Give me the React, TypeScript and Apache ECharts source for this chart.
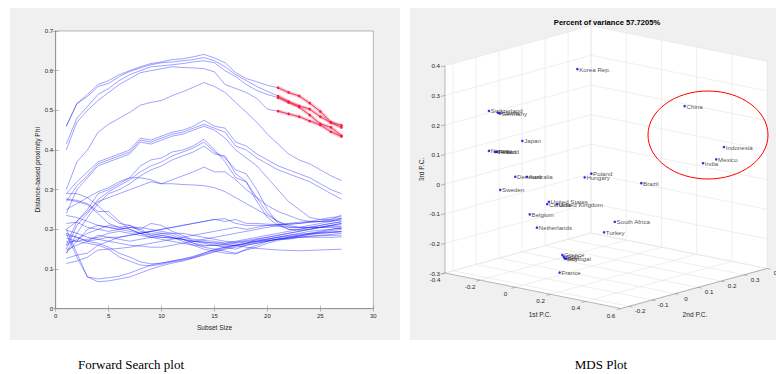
import React, { useEffect, useRef } from 'react';
import * as echarts from 'echarts';

// ---------------- Left panel data: forward search trajectories ----------------
const SUBSET = [1,2,3,4,5,6,7,8,9,10,11,12,13,14,15,16,17,18,19,20,21,22,23,24,25,26,27];

const T1 = [0.46,0.517,0.54,0.565,0.575,0.59,0.60,0.61,0.618,0.622,0.628,0.63,0.635,0.641,0.632,0.62,0.595,0.58,0.572,0.563,0.557,0.545,0.536,0.518,0.497,0.47,0.462];
const T2 = [0.46,0.517,0.535,0.56,0.568,0.585,0.598,0.607,0.615,0.62,0.622,0.625,0.628,0.633,0.625,0.61,0.59,0.575,0.56,0.548,0.536,0.522,0.511,0.503,0.484,0.469,0.457];
const T3 = [0.415,0.48,0.51,0.54,0.555,0.575,0.59,0.60,0.61,0.612,0.615,0.618,0.622,0.625,0.62,0.60,0.585,0.565,0.55,0.54,0.532,0.52,0.508,0.488,0.466,0.457,0.436];
const T4 = [0.40,0.47,0.50,0.525,0.545,0.565,0.58,0.595,0.60,0.605,0.61,0.608,0.607,0.605,0.597,0.565,0.555,0.545,0.53,0.503,0.498,0.491,0.484,0.473,0.463,0.446,0.434];
const B1 = [0.30,0.37,0.40,0.445,0.465,0.48,0.495,0.513,0.52,0.525,0.537,0.547,0.558,0.57,0.56,0.545,0.52,0.495,0.47,0.44,0.415,0.39,0.375,0.365,0.35,0.335,0.323];
const C1 = [0.29,0.32,0.345,0.37,0.38,0.39,0.40,0.43,0.425,0.435,0.445,0.45,0.46,0.475,0.46,0.455,0.42,0.41,0.39,0.375,0.36,0.35,0.34,0.33,0.315,0.30,0.29];
const C2 = [0.27,0.31,0.335,0.365,0.375,0.385,0.395,0.425,0.42,0.43,0.44,0.445,0.455,0.465,0.455,0.445,0.41,0.40,0.38,0.365,0.35,0.34,0.33,0.32,0.305,0.29,0.276];
const C3 = [0.24,0.30,0.33,0.36,0.37,0.38,0.39,0.42,0.415,0.425,0.435,0.44,0.45,0.46,0.45,0.43,0.40,0.38,0.36,0.33,0.30,0.27,0.25,0.23,0.225,0.225,0.228];
const D1 = [0.16,0.22,0.25,0.29,0.30,0.315,0.33,0.36,0.375,0.38,0.395,0.40,0.41,0.427,0.40,0.37,0.33,0.32,0.28,0.24,0.22,0.205,0.205,0.21,0.215,0.22,0.224];
const D2 = [0.15,0.21,0.24,0.275,0.295,0.31,0.325,0.345,0.36,0.37,0.385,0.395,0.405,0.42,0.395,0.38,0.35,0.34,0.30,0.25,0.215,0.20,0.20,0.205,0.21,0.215,0.219];
const D3 = [0.14,0.19,0.23,0.265,0.29,0.30,0.315,0.335,0.35,0.36,0.375,0.385,0.395,0.41,0.39,0.385,0.34,0.32,0.27,0.23,0.21,0.20,0.198,0.20,0.205,0.21,0.215];
const EE = [0.20,0.22,0.245,0.27,0.28,0.29,0.30,0.31,0.32,0.315,0.325,0.335,0.345,0.357,0.345,0.345,0.325,0.30,0.28,0.26,0.245,0.235,0.225,0.22,0.22,0.22,0.228];
const FF = [0.25,0.265,0.28,0.295,0.305,0.32,0.33,0.33,0.325,0.315,0.315,0.313,0.312,0.31,0.305,0.295,0.28,0.265,0.25,0.235,0.22,0.21,0.205,0.205,0.205,0.21,0.211];
const H1 = [0.20,0.14,0.08,0.075,0.078,0.082,0.09,0.10,0.11,0.115,0.12,0.125,0.132,0.14,0.148,0.155,0.16,0.165,0.17,0.175,0.18,0.185,0.19,0.195,0.198,0.20,0.203];
const H2 = [0.19,0.13,0.08,0.068,0.07,0.075,0.08,0.09,0.10,0.108,0.115,0.12,0.128,0.135,0.143,0.15,0.155,0.16,0.165,0.17,0.175,0.18,0.183,0.187,0.19,0.192,0.195];
const I1 = [0.19,0.18,0.17,0.165,0.155,0.14,0.13,0.118,0.113,0.115,0.12,0.125,0.13,0.14,0.15,0.155,0.16,0.165,0.17,0.175,0.18,0.182,0.185,0.188,0.19,0.192,0.194];
const I2 = [0.178,0.17,0.165,0.16,0.15,0.13,0.12,0.11,0.108,0.112,0.118,0.122,0.128,0.137,0.145,0.152,0.158,0.163,0.168,0.172,0.176,0.178,0.18,0.183,0.185,0.187,0.19];
const J1 = [0.277,0.273,0.265,0.245,0.245,0.22,0.20,0.19,0.18,0.185,0.18,0.17,0.16,0.15,0.145,0.14,0.138,0.15,0.16,0.17,0.175,0.18,0.185,0.19,0.195,0.20,0.205];
const J2 = [0.275,0.27,0.262,0.24,0.215,0.205,0.21,0.20,0.185,0.19,0.185,0.175,0.165,0.155,0.15,0.145,0.14,0.148,0.155,0.165,0.172,0.178,0.183,0.188,0.193,0.197,0.20];
const K1 = [0.29,0.29,0.28,0.26,0.235,0.215,0.21,0.195,0.19,0.185,0.18,0.175,0.165,0.16,0.16,0.158,0.16,0.165,0.175,0.18,0.185,0.19,0.195,0.20,0.205,0.21,0.215];
const L1 = [0.114,0.12,0.13,0.148,0.15,0.152,0.155,0.16,0.165,0.17,0.175,0.18,0.185,0.19,0.195,0.20,0.205,0.20,0.205,0.21,0.212,0.215,0.218,0.22,0.225,0.23,0.232];
const L2 = [0.127,0.135,0.14,0.16,0.17,0.18,0.185,0.19,0.195,0.20,0.205,0.21,0.215,0.22,0.225,0.22,0.225,0.215,0.215,0.213,0.212,0.213,0.215,0.218,0.22,0.225,0.236];
const L3 = [0.14,0.17,0.20,0.21,0.205,0.20,0.205,0.20,0.215,0.21,0.195,0.185,0.17,0.165,0.16,0.155,0.15,0.16,0.165,0.17,0.175,0.175,0.18,0.18,0.18,0.18,0.181];
const L4 = [0.148,0.16,0.17,0.185,0.18,0.175,0.17,0.175,0.18,0.18,0.178,0.175,0.17,0.168,0.165,0.162,0.16,0.155,0.152,0.15,0.148,0.147,0.146,0.147,0.148,0.149,0.15];
const L5 = [0.16,0.175,0.19,0.20,0.21,0.205,0.20,0.19,0.195,0.19,0.19,0.18,0.175,0.172,0.17,0.165,0.17,0.175,0.18,0.185,0.19,0.195,0.20,0.205,0.21,0.215,0.219];
const L6 = [0.168,0.17,0.175,0.18,0.19,0.195,0.19,0.185,0.18,0.175,0.17,0.165,0.16,0.158,0.16,0.162,0.165,0.168,0.17,0.172,0.175,0.177,0.18,0.182,0.184,0.185,0.185];
const L7 = [0.215,0.218,0.205,0.20,0.195,0.20,0.205,0.205,0.20,0.195,0.19,0.19,0.185,0.18,0.175,0.17,0.168,0.172,0.176,0.18,0.185,0.19,0.195,0.20,0.205,0.207,0.207];
const L8 = [0.235,0.23,0.22,0.21,0.205,0.20,0.195,0.19,0.185,0.18,0.178,0.175,0.17,0.168,0.166,0.165,0.167,0.17,0.173,0.176,0.18,0.185,0.188,0.19,0.192,0.194,0.194];
const L9 = [0.198,0.19,0.18,0.175,0.17,0.165,0.16,0.158,0.155,0.155,0.16,0.165,0.17,0.175,0.18,0.185,0.19,0.195,0.20,0.205,0.21,0.213,0.215,0.218,0.22,0.222,0.224];
const L10 = [0.185,0.18,0.17,0.175,0.18,0.18,0.185,0.19,0.195,0.20,0.205,0.21,0.215,0.22,0.225,0.227,0.215,0.21,0.21,0.21,0.208,0.206,0.205,0.204,0.205,0.205,0.202];

const BLUE_LINES = [T1,T2,T3,T4,B1,C1,C2,C3,D1,D2,D3,EE,FF,H1,H2,I1,I2,J1,J2,K1,L1,L2,L3,L4,L5,L6,L7,L8,L9,L10];
const RED_LINES = [T1,T2,T3,T4];
const RED_FROM = 21; // highlighted from subset size 21

const X_MAX = 30;
const Y_MAX = 0.7;

// ---------------- Right panel data: MDS coordinates ----------------
const COUNTRIES = ['Korea Rep.','Switzerland','Austria','Germany','Japan','Norway','Finland','Ireland','Denmark','Australia','Poland','Hungary','Brazil','Sweden','United States','Canada','United Kingdom','Belgium','Netherlands','South Africa','Turkey','Greece','Spain','Italy','Portugal','France','China','Indonesia','Mexico','India'];
const PC1 = [-0.040,-0.346,-0.295,-0.285,-0.222,-0.346,-0.301,-0.310,-0.262,-0.196,-0.026,-0.064,0.127,-0.282,-0.136,-0.146,-0.090,-0.180,-0.139,0.042,-0.019,0.136,0.144,0.149,0.157,0.186,0.243,0.401,0.357,0.282];
const PC2 = [0.065,-0.085,-0.085,-0.085,-0.035,-0.085,-0.085,-0.085,-0.035,-0.035,0.115,0.115,0.215,-0.085,0.015,0.015,0.015,-0.035,-0.035,0.165,0.165,-0.135,-0.135,-0.135,-0.135,-0.185,0.315,0.365,0.365,0.365];
const PC3 = [0.368,0.222,0.222,0.221,0.125,0.087,0.089,0.088,-0.001,0.007,0.006,-0.011,-0.029,-0.037,-0.081,-0.090,-0.083,-0.118,-0.158,-0.159,-0.202,-0.196,-0.201,-0.206,-0.206,-0.239,0.224,0.094,0.047,0.025];

const PC1_TICKS = [-0.4,-0.2,0,0.2,0.4,0.6];
const PC2_TICKS = [-0.2,-0.1,0,0.1,0.2,0.3,0.4];
const PC3_TICKS = [-0.3,-0.2,-0.1,0,0.1,0.2,0.3,0.4];
const PC1_RANGE = [-0.4, 0.6];
const PC2_RANGE = [-0.235, 0.4];
const PC3_RANGE = [-0.3, 0.4];
const TITLE = 'Percent of variance 57.7205%';

// ---------------- view / projection (layout) ----------------
const W = 776, H = 374;
const ORIGIN = [445, 273];
const V1 = [176, 35.5];
const V2 = [230, -63];
const V3 = 296;
function proj(p1: number, p2: number, p3: number): [number, number] {
  const u = p1 - PC1_RANGE[0], w = p2 - PC2_RANGE[0], h = p3 - PC3_RANGE[0];
  return [ORIGIN[0] + u * V1[0] + w * V2[0], ORIGIN[1] + u * V1[1] + w * V2[1] - h * V3];
}

const FONT = '"Liberation Sans", Arial, Helvetica, sans-serif';
const SERIF = '"Liberation Serif", "Times New Roman", serif';
const AXIS_GRAY = '#8c8c8c';
const GRID_GRAY = '#e4e4e4';
const TEXT = '#262626';

function fmt(v: number) {
  return String(Math.round(v * 10) / 10);
}

function render3D(_params: any, api: any) {
  const c = (p: [number, number]) => api.coord(p);
  const children: any[] = [];
  const seg = (a: [number, number], b: [number, number], stroke: string, lw: number) => {
    const [x1, y1] = c(a);
    const [x2, y2] = c(b);
    children.push({ type: 'line', shape: { x1, y1, x2, y2 }, style: { stroke, lineWidth: lw } });
  };
  const [a0, a1] = PC1_RANGE, [b0, b1] = PC2_RANGE, [c0, c1] = PC3_RANGE;
  const hull = [proj(a0, b0, c1), proj(a0, b1, c1), proj(a1, b1, c1), proj(a1, b1, c0), proj(a1, b0, c0), proj(a0, b0, c0)].map(c);
  children.push({ type: 'polygon', shape: { points: hull }, style: { fill: '#ffffff' } });
  PC2_TICKS.forEach((v) => {
    seg(proj(a0, v, c0), proj(a0, v, c1), GRID_GRAY, 0.6);
    seg(proj(a0, v, c0), proj(a1, v, c0), GRID_GRAY, 0.6);
  });
  PC1_TICKS.forEach((v) => {
    seg(proj(v, b1, c0), proj(v, b1, c1), GRID_GRAY, 0.6);
    seg(proj(v, b0, c0), proj(v, b1, c0), GRID_GRAY, 0.6);
  });
  PC3_TICKS.forEach((v) => {
    seg(proj(a0, b0, v), proj(a0, b1, v), GRID_GRAY, 0.6);
    seg(proj(a0, b1, v), proj(a1, b1, v), GRID_GRAY, 0.6);
  });
  seg(proj(a0, b0, c0), proj(a0, b0, c1), AXIS_GRAY, 0.6);
  seg(proj(a0, b0, c0), proj(a1, b0, c0), AXIS_GRAY, 0.6);
  seg(proj(a1, b0, c0), proj(a1, b1, c0), AXIS_GRAY, 0.6);
  const txt = (x: number, y: number, text: string, align: string, size = 6.2) => {
    children.push({
      type: 'text', x, y,
      style: { text, fill: TEXT, fontSize: size, fontFamily: FONT, align, verticalAlign: 'middle' },
    });
  };
  PC3_TICKS.forEach((v) => {
    const [x, y] = c(proj(a0, b0, v));
    children.push({ type: 'line', shape: { x1: x - 4, y1: y + 1, x2: x, y2: y }, style: { stroke: AXIS_GRAY, lineWidth: 0.6 } });
    txt(x - 5, y, fmt(v), 'right');
  });
  PC1_TICKS.forEach((v) => {
    const [x, y] = c(proj(v, b0, c0));
    children.push({ type: 'line', shape: { x1: x, y1: y, x2: x - 4, y2: y + 1.1 }, style: { stroke: AXIS_GRAY, lineWidth: 0.6 } });
    txt(x - 10, y + 6.5, fmt(v), 'center');
  });
  PC2_TICKS.forEach((v) => {
    const [x, y] = c(proj(a1, v, c0));
    children.push({ type: 'line', shape: { x1: x, y1: y, x2: x + 3.5, y2: y + 0.7 }, style: { stroke: AXIS_GRAY, lineWidth: 0.6 } });
    txt(x + 11, y + 4.5, fmt(v), 'center');
  });
  const n1a = c(proj(0.1, b0, c0));
  txt(n1a[0] + 7, n1a[1] + 24, '1st P.C.', 'center', 6.6);
  const n2a = c(proj(a1, 0.08, c0));
  txt(n2a[0] + 1.5, n2a[1] + 25.5, '2nd P.C.', 'center', 6.6);
  const n3a = c(proj(a0, b0, 0.05));
  children.push({
    type: 'text', x: n3a[0] - 24, y: n3a[1], rotation: Math.PI / 2,
    style: { text: '3rd P.C.', fill: TEXT, fontSize: 6.6, fontFamily: FONT, align: 'center', verticalAlign: 'middle' },
  });
  return { type: 'group', children };
}

function buildOption(): any {
  const blueSeries = BLUE_LINES.map((arr) => ({
    type: 'line', xAxisIndex: 0, yAxisIndex: 0, silent: true, showSymbol: false, symbol: 'none',
    lineStyle: { color: '#1010ff', width: 0.65, opacity: 0.6 },
    data: SUBSET.map((x, i) => [x, arr[i]]), z: 3,
  }));
  const redIdx = SUBSET.map((x, i) => (x >= RED_FROM ? i : -1)).filter((i) => i >= 0);
  const glowSeries = RED_LINES.map((arr) => ({
    type: 'line', xAxisIndex: 0, yAxisIndex: 0, silent: true, showSymbol: false, symbol: 'none',
    lineStyle: { color: '#ff4a66', width: 3.6, opacity: 0.3 },
    data: redIdx.map((i) => [SUBSET[i], arr[i]]), z: 4,
  }));
  const redSeries = RED_LINES.map((arr) => ({
    type: 'line', xAxisIndex: 0, yAxisIndex: 0, silent: true, showSymbol: true, symbol: 'circle', symbolSize: 2.6,
    itemStyle: { color: '#ff1a2e' },
    lineStyle: { color: '#ff2038', width: 0.7, opacity: 0.85 },
    data: redIdx.map((i) => [SUBSET[i], arr[i]]), z: 5,
  }));

  const axisLineStyle = { color: AXIS_GRAY, width: 0.6 };
  const labelStyle = { fontSize: 6, color: TEXT, fontFamily: FONT };

  return {
    animation: false,
    backgroundColor: '#ffffff',
    graphic: [
      { type: 'rect', z: -10, shape: { x: 10, y: 8, width: 390, height: 332 }, style: { fill: '#f0f0f0' }, silent: true },
      { type: 'rect', z: -10, shape: { x: 410, y: 8, width: 366, height: 332 }, style: { fill: '#f0f0f0' }, silent: true },
      { type: 'text', x: 607, y: 22, z: 10, style: { text: TITLE, fill: '#000', fontSize: 7.6, fontWeight: 'bold', fontFamily: FONT, align: 'center', verticalAlign: 'middle' } },
      { type: 'ellipse', z: 10, shape: { cx: 708, cy: 135, rx: 60, ry: 44 }, style: { fill: 'none', stroke: '#ff0000', lineWidth: 1 }, silent: true },
      { type: 'text', x: 131, y: 364, style: { text: 'Forward Search plot', fill: '#000', fontSize: 13, fontFamily: SERIF, align: 'center', verticalAlign: 'middle' } },
      { type: 'text', x: 601, y: 364, style: { text: 'MDS Plot', fill: '#000', fontSize: 13, fontFamily: SERIF, align: 'center', verticalAlign: 'middle' } },
    ],
    grid: [
      { left: 55.7, top: 31, width: 317.6, height: 277.7, show: true, backgroundColor: '#ffffff', borderColor: AXIS_GRAY, borderWidth: 0.6 },
      { left: 0, top: 0, width: W, height: H },
    ],
    xAxis: [
      {
        gridIndex: 0, type: 'value', min: 0, max: X_MAX, interval: 5, position: 'bottom',
        axisLine: { lineStyle: axisLineStyle }, axisTick: { inside: true, length: 3, lineStyle: axisLineStyle },
        axisLabel: { ...labelStyle, margin: 4 }, splitLine: { show: false },
        name: 'Subset Size', nameLocation: 'middle', nameGap: 11, nameTextStyle: { fontSize: 6.6, color: TEXT, fontFamily: FONT },
      },
      {
        gridIndex: 0, type: 'value', min: 0, max: X_MAX, interval: 5, position: 'top',
        axisLine: { lineStyle: axisLineStyle }, axisTick: { inside: true, length: 3, lineStyle: axisLineStyle },
        axisLabel: { show: false }, splitLine: { show: false },
      },
      { gridIndex: 1, type: 'value', min: 0, max: W, show: false },
    ],
    yAxis: [
      {
        gridIndex: 0, type: 'value', min: 0, max: Y_MAX, interval: 0.1, position: 'left',
        axisLine: { show: true, lineStyle: axisLineStyle }, axisTick: { show: true, inside: true, length: 3, lineStyle: axisLineStyle },
        axisLabel: { ...labelStyle, margin: 2.5 }, splitLine: { show: false },
        name: 'Distance-based proximity Phi', nameLocation: 'middle', nameGap: 13.5, nameTextStyle: { fontSize: 6.6, color: TEXT, fontFamily: FONT },
      },
      {
        gridIndex: 0, type: 'value', min: 0, max: Y_MAX, interval: 0.1, position: 'right',
        axisLine: { show: true, lineStyle: axisLineStyle }, axisTick: { show: true, inside: true, length: 3, lineStyle: axisLineStyle },
        axisLabel: { show: false }, splitLine: { show: false },
      },
      { gridIndex: 1, type: 'value', min: 0, max: H, inverse: true, show: false },
    ],
    series: [
      ...blueSeries,
      ...glowSeries,
      ...redSeries,
      {
        type: 'custom', xAxisIndex: 2, yAxisIndex: 2, silent: true, z: 1,
        renderItem: render3D, data: [[0, 0]],
      },
      {
        type: 'scatter', xAxisIndex: 2, yAxisIndex: 2, silent: true, z: 6,
        symbol: 'circle', symbolSize: 2.6, itemStyle: { color: '#0000ff' },
        data: COUNTRIES.map((name, i) => {
          const [x, y] = proj(PC1[i], PC2[i], PC3[i]);
          return [x, y, name];
        }),
        label: {
          show: true, position: 'right', distance: 0.5,
          formatter: (p: any) => p.data[2],
          fontSize: 6.2, color: '#1a1a1a', fontFamily: FONT,
        },
      },
    ],
  };
}

export default function App() {
  const ref = useRef<HTMLDivElement>(null);
  useEffect(() => {
    const chart = echarts.init(ref.current as HTMLDivElement, null, { renderer: 'svg' });
    chart.setOption(buildOption());
    return () => chart.dispose();
  }, []);
  return (
    <div
      ref={ref}
      style={{ position: 'absolute', left: 0, top: 0, width: W, height: H, background: '#ffffff' }}
    />
  );
}
